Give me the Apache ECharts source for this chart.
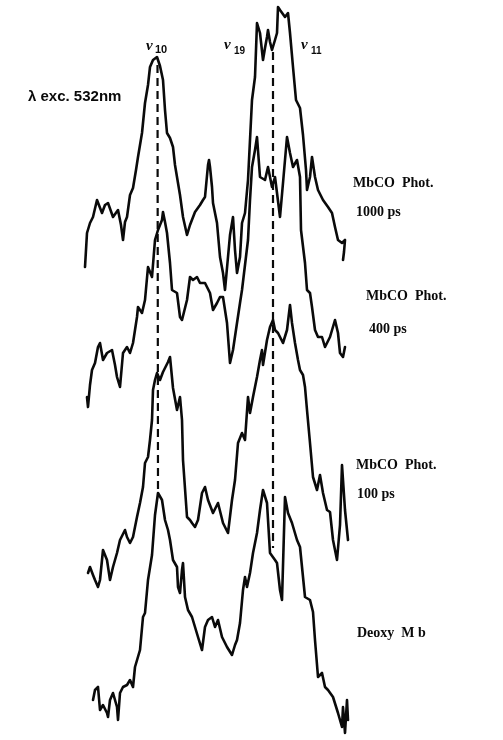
<!DOCTYPE html>
<html>
<head>
<meta charset="utf-8">
<script src="https://cdn.jsdelivr.net/npm/echarts@6/dist/echarts.min.js"></script>
<style>
  html, body { margin: 0; padding: 0; background: #fff; }
  #chart { width: 503px; height: 740px; }
</style>
</head>
<body>
<div id="chart"></div>
<script>
// Resonance Raman traces, [shift channel, intensity], stacked top to bottom.
const phot1000ps = [
  [85,473],[87,507],[90,517],[93,523],[97,540],[102,527],[105,535],[108,537],[113,523],[118,530],
  [121,515],[123,500],[125,518],[127,523],[130,545],[133,552],[136,570],[138,583],[142,607],[145,637],
  [148,655],[150,673],[153,680],[155,678],[157,683],[160,674],[163,660],[165,630],[167,607],[170,602],
  [173,593],[175,575],[177,563],[180,545],[183,523],[187,505],[190,515],[192,513],[195,528],[197,530],
  [200,535],[203,540],[205,543],[208,575],[209,580],[210,573],[212,553],[213,537],[217,517],[220,483],
  [223,467],[225,450],[228,483],[230,505],[232,517],[233,523],[235,490],[237,467],[240,483],[242,517],
  [245,527],[248,560],[250,600],[252,640],[255,663],[257,717],[258,715],[260,707],[263,680],[265,692],
  [267,703],[268,710],[270,698],[272,690],[275,700],[277,707],[278,733],[280,730],[282,730],[285,723],
  [288,727],[290,707],[293,673],[296,640],[300,632],[303,605],[306,570],[307,550],[310,563],[312,583],
  [315,563],[318,550],[323,540],[328,533],[332,527],[335,513],[338,500],[342,497],[345,500],[344,488],
  [343,480]
];
const phot400ps = [
  [87,343],[88,333],[90,355],[92,370],[95,377],[98,393],[100,397],[103,380],[107,387],[112,390],
  [115,375],[117,363],[120,353],[123,387],[127,393],[130,387],[133,397],[137,423],[138,433],[142,427],
  [145,440],[148,473],[152,463],[155,500],[158,510],[160,515],[162,520],[163,528],[165,518],[167,507],
  [170,477],[172,450],[177,447],[180,423],[182,420],[187,440],[190,463],[193,460],[197,463],[200,457],
  [205,457],[210,447],[213,430],[217,437],[220,443],[223,443],[227,417],[230,377],[233,390],[237,417],
  [240,437],[242,450],[245,475],[248,500],[250,540],[252,573],[255,590],[257,603],[260,563],[265,560],
  [268,573],[272,553],[275,563],[280,523],[283,557],[287,603],[290,587],[293,573],[297,580],[300,563],
  [301,510],[305,477],[307,450],[310,447],[312,433],[315,410],[318,403],[322,403],[325,393],[330,403],
  [335,420],[338,407],[340,387],[343,383],[345,393]
];
const phot100ps = [
  [88,167],[90,173],[93,165],[95,160],[98,153],[100,160],[103,190],[107,180],[110,160],[113,173],
  [117,187],[120,200],[125,210],[127,203],[130,197],[133,203],[137,223],[140,237],[143,253],[145,277],
  [148,283],[150,300],[152,320],[153,350],[155,360],[157,367],[160,360],[163,368],[165,370],[168,378],
  [170,383],[173,352],[177,330],[180,343],[182,320],[183,280],[187,223],[190,220],[192,217],[195,213],
  [198,220],[202,247],[205,253],[208,240],[213,227],[218,237],[223,217],[228,207],[232,240],[235,260],
  [238,297],[242,307],[245,300],[248,343],[250,327],[253,343],[257,363],[260,380],[262,390],[263,375],
  [267,400],[270,413],[273,420],[275,410],[278,407],[283,397],[287,410],[290,435],[292,417],[295,397],
  [298,380],[300,370],[303,365],[305,353],[307,330],[310,297],[313,263],[317,250],[320,265],[323,247],
  [327,230],[330,228],[333,200],[337,180],[340,215],[342,275],[345,230],[348,200]
];
const deoxyMb = [
  [93,40],[95,50],[98,53],[100,30],[103,35],[107,27],[108,23],[110,40],[113,47],[117,33],
  [118,20],[120,47],[123,53],[127,55],[130,60],[133,53],[135,73],[140,90],[143,123],[145,127],
  [148,160],[152,185],[155,225],[158,247],[160,245],[162,240],[165,220],[168,210],[170,200],[173,180],
  [177,173],[178,153],[180,147],[182,170],[183,177],[185,143],[188,130],[192,123],[195,113],[198,103],
  [202,90],[205,113],[208,120],[212,123],[215,113],[218,120],[222,103],[227,93],[232,85],[235,95],
  [237,100],[240,117],[243,150],[245,163],[247,153],[250,167],[253,187],[257,207],[260,230],[263,250],
  [267,237],[270,187],[275,180],[277,177],[280,150],[282,140],[285,243],[288,227],[292,217],[297,200],
  [300,193],[303,163],[305,143],[310,140],[313,128],[315,100],[318,63],[322,67],[325,53],[328,50],
  [333,43],[338,27],[342,13],[343,33],[345,7],[347,40],[348,20]
];
// Band positions marked with dashed guides: [channel, top intensity], [channel, bottom intensity]
const nu10Guide = [[157.5, 675], [158, 247]];
const nu19Guide = [[273, 688], [273, 192]];

const traceNames = ['MbCO Phot. 1000 ps', 'MbCO Phot. 400 ps', 'MbCO Phot. 100 ps', 'Deoxy Mb'];
const traces = [phot1000ps, phot400ps, phot100ps, deoxyMb];

const chart = echarts.init(document.getElementById('chart'), null, { renderer: 'canvas' });

const ink = '#0a0a0a';
const serif = '"Liberation Serif", "DejaVu Serif", serif';
const sans = '"Liberation Sans", Arial, sans-serif';

const series = traces.map((d, i) => ({
  name: traceNames[i],
  type: 'line',
  data: d,
  showSymbol: false,
  smooth: false,
  lineStyle: { color: ink, width: 2.6, join: 'round', cap: 'round' },
  z: 3
}));
[nu10Guide, nu19Guide].forEach((g) => {
  series.push({
    type: 'line',
    data: g,
    showSymbol: false,
    lineStyle: { color: ink, width: 2.2, type: [8, 5] },
    z: 2
  });
});

function txt(text, x, y, font, align) {
  return {
    type: 'text',
    x: x, y: y,
    style: { text: text, font: font, fill: ink, align: align || 'left', verticalAlign: 'middle' }
  };
}

chart.setOption({
  animation: false,
  backgroundColor: '#fff',
  grid: { left: 0, right: 0, top: 0, bottom: 0 },
  xAxis: { type: 'value', min: 0, max: 503, show: false },
  yAxis: { type: 'value', min: 0, max: 740, show: false },
  series: series,
  graphic: [
    txt('ν', 146, 46, 'bold italic 15px ' + serif),
    txt('10', 155, 50, 'bold 11px ' + sans),
    txt('ν', 224, 45, 'bold italic 15px ' + serif),
    txt('19', 234, 51, 'bold 10px ' + sans),
    txt('ν', 301, 45, 'bold italic 15px ' + serif),
    txt('11', 311, 51, 'bold 10px ' + sans),
    txt('λ exc. 532nm', 28, 97, 'bold 15px ' + sans),
    txt('MbCO  Phot.', 353, 183, 'bold 14px ' + serif),
    txt('1000 ps', 356, 212, 'bold 14px ' + serif),
    txt('MbCO  Phot.', 366, 296, 'bold 14px ' + serif),
    txt('400 ps', 369, 329, 'bold 14px ' + serif),
    txt('MbCO  Phot.', 356, 465, 'bold 14px ' + serif),
    txt('100 ps', 357, 494, 'bold 14px ' + serif),
    txt('Deoxy  M b', 357, 633, 'bold 14px ' + serif)
  ]
});
</script>
</body>
</html>
